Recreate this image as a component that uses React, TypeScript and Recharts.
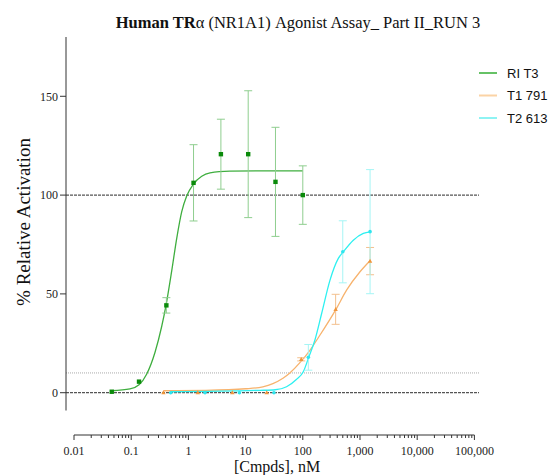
import React from 'react';
import { ComposedChart, LineChart, Line, Scatter, XAxis, YAxis, ReferenceLine, ErrorBar } from 'recharts';

// ---------- data ----------
const riT3Conc = [0.0457, 0.137, 0.412, 1.23, 3.7, 11.1, 33.3, 100];
const riT3Mean = [0.5, 5.6, 44.2, 106.2, 120.7, 120.7, 106.7, 100];
const riT3Sd = [0, 0, 3.9, 19.3, 17.7, 32.1, 27.6, 14.8];

const t1Conc = [0.366, 1.46, 5.86, 23.4, 93.8, 375, 1500];
const t1Mean = [0, 0, 0, 0, 16.9, 42.2, 66.6];
const t1Sd = [0, 0, 0, 0, 0.8, 7.6, 6.9];

const t2Conc = [0.49, 1.95, 7.8, 31.3, 125, 500, 1500];
const t2Mean = [0, 0, 0, 0, 17.9, 71.3, 81.5];
const t2Sd = [0, 0, 0, 0, 6.5, 15.7, 31.4];

// fitted curves
const riT3CurveX = [0.0457, 0.0953, 0.137, 0.187, 0.261, 0.341, 0.406, 0.51, 0.624, 0.763, 0.933, 1.22, 1.71, 2.39, 5.33, 17.9, 100];
const riT3CurveY = [1.0, 1.9, 4.0, 9.5, 20.5, 33.5, 44.2, 61.5, 78, 91.5, 99.5, 105.5, 109.5, 111.2, 112.1, 112.3, 112.3];

const t1CurveX = [0.366, 2, 10, 20, 30, 45, 60, 89, 134, 200, 380, 586, 1000, 1500];
const t1CurveY = [1.0, 1.2, 2.0, 3.0, 4.6, 7.3, 10.1, 15.2, 21.6, 29.2, 42.2, 52, 61.2, 66.8];

const t2CurveX = [0.49, 18, 33, 52, 78, 102, 127, 163, 214, 299, 418, 511, 764, 1143, 1500];
const t2CurveY = [0.5, 1.2, 1.5, 3.0, 6.8, 10.6, 17.9, 26.7, 40.2, 57, 68, 71.3, 77.2, 80.6, 81.4];

const yTicks = [0, 50, 100, 150];
const xMajorTicks = [0.01, 0.1, 1, 10, 100, 1000, 10000, 100000];
const xMajorLabels = ['0.01', '0.1', '1', '10', '100', '1,000', '10,000', '100,000'];
const xMinorFactors = [2, 3, 4, 5, 6, 7, 8, 9];

const seriesNames = ['RI T3', 'T1 791', 'T2 613'];

// ---------- layout ----------
const W = 551;
const H = 475;
const PLOT_LEFT = 66;
const PLOT_RIGHT = 479;
const PLOT_TOP = 37;
const PLOT_BOTTOM = 410.5;
const XAXIS_LEFT = 74;
const XAXIS_RIGHT = 474.4;
const XAXIS_Y = 435;
const Y_AXIS_W = 40;
const DECADE = (XAXIS_RIGHT - XAXIS_LEFT) / 7;
const plotXDomain: [number, number] = [
  0.01 * Math.pow(10, -(XAXIS_LEFT - PLOT_LEFT) / DECADE),
  100000 * Math.pow(10, (PLOT_RIGHT - XAXIS_RIGHT) / DECADE),
];
const yDomain: [number, number] = [-9, 180];

const SERIF = '"Liberation Serif", "Times New Roman", serif';
const SANS = '"Liberation Sans", Arial, sans-serif';

const colors = [
  { curve: '#3fae3f', mark: '#0a8a0a', err: '#8fce8f', legend: '#66c266' },
  { curve: '#f7b36e', mark: '#f0963c', err: '#f3c08e', legend: '#fbd3a5' },
  { curve: '#2ef0f0', mark: '#2fe5ee', err: '#a5f5f5', legend: '#8ef3f3' },
];

const toPoints = (xs: number[], ys: number[], es?: number[]) =>
  xs.map((x, i) => ({ x, y: ys[i], err: es ? es[i] : 0 }));

const riT3Points = toPoints(riT3Conc, riT3Mean, riT3Sd);
const t1Points = toPoints(t1Conc, t1Mean, t1Sd);
const t2Points = toPoints(t2Conc, t2Mean, t2Sd);
const riT3Curve = toPoints(riT3CurveX, riT3CurveY);
const t1Curve = toPoints(t1CurveX, t1CurveY);
const t2Curve = toPoints(t2CurveX, t2CurveY);

const xAllTicks: number[] = [];
xMajorTicks.forEach((t, i) => {
  xAllTicks.push(t);
  if (i < xMajorTicks.length - 1) xMinorFactors.forEach((f) => xAllTicks.push(+(t * f).toPrecision(3)));
});

const SquareShape = (p: any) => (
  <rect x={p.cx - 2.2} y={p.cy - 2.2} width={4.4} height={4.4} fill={colors[0].mark} />
);
const TriShape = (p: any) => (
  <path d={`M${p.cx},${p.cy - 2.4}L${p.cx + 2.2},${p.cy + 1.6}L${p.cx - 2.2},${p.cy + 1.6}Z`} fill={colors[1].mark} />
);
const CircleShape = (p: any) => <circle cx={p.cx} cy={p.cy} r={1.8} fill={colors[2].mark} />;

const XTick = (props: any) => {
  const { x, y, payload } = props;
  const idx = xMajorTicks.indexOf(payload.value);
  const major = idx >= 0;
  return (
    <g>
      <line x1={x} x2={x} y1={y} y2={y + (major ? 5 : 3)} stroke="#333" strokeWidth={1} />
      {major && (
        <text x={x} y={y + 19.5} textAnchor="middle" fontFamily={SERIF} fontSize={12} fill="#222">
          {xMajorLabels[idx]}
        </text>
      )}
    </g>
  );
};

export default function App() {
  return (
    <div style={{ position: 'absolute', left: 0, top: 0, width: W, height: H, background: '#fff' }}>
      <div style={{ position: 'absolute', left: 0, top: 0 }}>
        <ComposedChart
          width={W}
          height={H}
          margin={{ top: PLOT_TOP, left: PLOT_LEFT - Y_AXIS_W, right: W - PLOT_RIGHT, bottom: H - PLOT_BOTTOM }}
        >
          <XAxis hide type="number" scale="log" dataKey="x" domain={plotXDomain} allowDataOverflow />
          <YAxis
            type="number"
            dataKey="y"
            width={Y_AXIS_W}
            domain={yDomain}
            ticks={yTicks}
            allowDataOverflow
            tickSize={6}
            tickMargin={2}
            stroke="#333"
            tick={{ fontFamily: SERIF, fontSize: 12, fill: '#222' }}
          />
          <ReferenceLine y={10} stroke="#aaa" strokeDasharray="1 1" strokeWidth={1} />
          <ReferenceLine y={0} stroke="#555" strokeDasharray="3 1" strokeWidth={1.2} />
          <ReferenceLine y={100} stroke="#555" strokeDasharray="3 1" strokeWidth={1.2} />
          <Line data={t1Curve} dataKey="y" type="monotone" stroke={colors[1].curve} strokeWidth={1.3} dot={false} isAnimationActive={false} />
          <Line data={t2Curve} dataKey="y" type="monotone" stroke={colors[2].curve} strokeWidth={1.3} dot={false} isAnimationActive={false} />
          <Line data={riT3Curve} dataKey="y" type="monotone" stroke={colors[0].curve} strokeWidth={1.3} dot={false} isAnimationActive={false} />
          <Scatter data={t1Points} dataKey="y" shape={TriShape} isAnimationActive={false}>
            <ErrorBar dataKey="err" direction="y" width={4} stroke={colors[1].err} strokeWidth={1} />
          </Scatter>
          <Scatter data={t2Points} dataKey="y" shape={CircleShape} isAnimationActive={false}>
            <ErrorBar dataKey="err" direction="y" width={4} stroke={colors[2].err} strokeWidth={1} />
          </Scatter>
          <Scatter data={riT3Points} dataKey="y" shape={SquareShape} isAnimationActive={false}>
            <ErrorBar dataKey="err" direction="y" width={4} stroke={colors[0].err} strokeWidth={1} />
          </Scatter>
        </ComposedChart>
      </div>
      <div style={{ position: 'absolute', left: 0, top: 0, pointerEvents: 'none' }}>
        <LineChart
          width={W}
          height={H}
          data={xMajorTicks.map((x) => ({ x }))}
          margin={{ top: 0, left: XAXIS_LEFT, right: W - XAXIS_RIGHT, bottom: 0 }}
        >
          <XAxis
            type="number"
            scale="log"
            dataKey="x"
            domain={[xMajorTicks[0], xMajorTicks[xMajorTicks.length - 1]]}
            allowDataOverflow
            ticks={xAllTicks}
            interval={0}
            height={H - XAXIS_Y}
            tickSize={0}
            tickMargin={0}
            tickLine={false}
            stroke="#333"
            tick={<XTick />}
          />
          <YAxis hide domain={[0, 1]} />
        </LineChart>
      </div>
      <svg width={W} height={H} style={{ position: 'absolute', left: 0, top: 0, pointerEvents: 'none' }}>
        <text x={298} y={28} textAnchor="middle" fontFamily={SERIF} fontSize={16.5} fill="#111">
          <tspan fontWeight="bold">Human TR</tspan>
          <tspan>α (NR1A1) Agonist Assay_ Part II_RUN 3</tspan>
        </text>
        <text
          transform={`translate(23, 222) rotate(-90)`}
          textAnchor="middle"
          dominantBaseline="central"
          fontFamily={SERIF}
          fontSize={19}
          fill="#111"
        >
          % Relative Activation
        </text>
        <text x={277} y={472} textAnchor="middle" fontFamily={SERIF} fontSize={16} fill="#111">
          [Cmpds], nM
        </text>
        {seriesNames.map((name, i) => (
          <g key={name}>
            <line x1={479} x2={497} y1={73 + 22.5 * i} y2={73 + 22.5 * i} stroke={colors[i].legend} strokeWidth={2} />
            <text x={507} y={73 + 22.5 * i + 4.6} fontFamily={SANS} fontSize={13} fill="#111">
              {name}
            </text>
          </g>
        ))}
      </svg>
    </div>
  );
}
